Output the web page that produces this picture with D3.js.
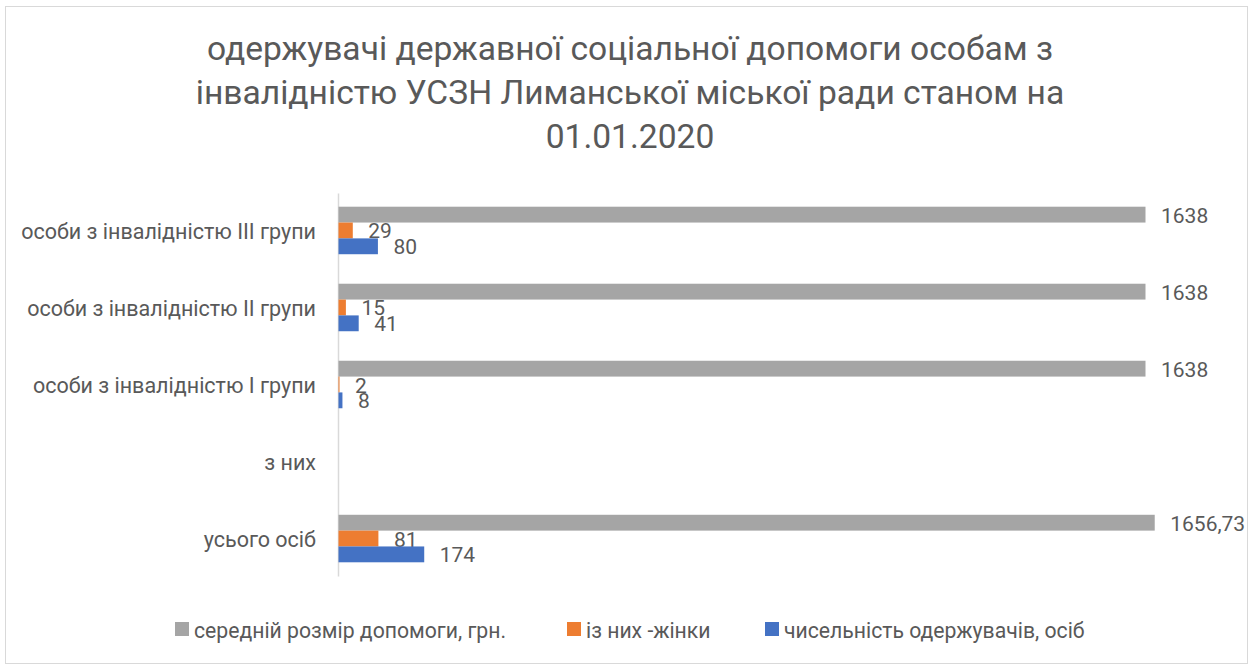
<!DOCTYPE html>
<html>
<head>
<meta charset="utf-8">
<script src="https://cdn.jsdelivr.net/npm/d3@7"></script>
<style>
  html, body { margin: 0; padding: 0; background: #fff; }
  svg { display: block; }
  text { font-family: Roboto, "Noto Sans", sans-serif; fill: #595959; }
</style>
</head>
<body>
<svg id="chart" width="1253" height="669"></svg>
<script>
// Categories, listed bottom to top as they appear on the vertical axis
const categories = [
  "усього осіб",
  "з них",
  "особи з інвалідністю I групи",
  "особи з інвалідністю II групи",
  "особи з інвалідністю III групи"
];

// Series (null = no bar in that row)
const seriesNames = [
  "середній розмір допомоги, грн.",
  "із них -жінки",
  "чисельність одержувачів, осіб"
];
const avgBenefit = [1656.73, null, 1638, 1638, 1638];
const women      = [81, null, 2, 15, 29];
const recipients = [174, null, 8, 41, 80];
const seriesValues = [avgBenefit, women, recipients];
const seriesColors = ["#A5A5A5", "#ED7D31", "#4472C4"];

const titleLines = [
  "одержувачі державної соціальної допомоги особам з",
  "інвалідністю УСЗН Лиманської міської ради станом на",
  "01.01.2020"
];

const fmt = v => Number.isInteger(v) ? String(v) : String(v).replace(".", ",");

const svg = d3.select("#chart");

// chart frame
svg.append("rect")
  .attr("x", 5.5).attr("y", 6.5)
  .attr("width", 1242).attr("height", 657)
  .attr("fill", "#fff").attr("stroke", "#D9D9D9").attr("stroke-width", 1);

// title
const title = svg.append("text")
  .attr("text-anchor", "middle")
  .style("font-size", "33.6px");
titleLines.forEach((line, i) => {
  title.append("tspan").attr("x", 630).attr("y", 60 + i * 44).text(line);
});

const plotLeft = 338, plotTop = 193, plotBottom = 576;

const x = d3.scaleLinear().domain([0, 1638]).range([plotLeft, 1145]);

// top-to-bottom order for the band scale
const y = d3.scaleBand()
  .domain(categories.slice().reverse())
  .range([plotTop, plotBottom])
  .paddingInner(0.383)
  .paddingOuter(0.178);

const ySub = d3.scaleBand()
  .domain(d3.range(seriesNames.length))
  .range([0, y.bandwidth()]);

// category axis
const yAxis = d3.axisLeft(y).tickSize(0).tickPadding(22);
const gAxis = svg.append("g")
  .attr("transform", `translate(${plotLeft},0)`)
  .call(yAxis);
gAxis.select(".domain").attr("stroke", "#D9D9D9").attr("stroke-width", 1.5);
gAxis.selectAll(".tick text")
  .style("font-size", "21.5px")
  .style("fill", "#595959")
  .style("font-family", "Roboto, 'Noto Sans', sans-serif")
  .attr("dy", "0.4em");

// bars and value labels
const rows = categories.map((c, i) => ({ c, i }));
seriesValues.forEach((vals, s) => {
  const g = svg.append("g");
  const data = rows.filter(r => vals[r.i] !== null).map(r => ({ c: r.c, v: vals[r.i] }));
  g.selectAll("rect").data(data).join("rect")
    .attr("x", x(0) + 0.5)
    .attr("y", d => y(d.c) + ySub(s))
    .attr("width", d => x(d.v) - x(0))
    .attr("height", ySub.bandwidth())
    .attr("fill", seriesColors[s]);
  g.selectAll("text").data(data).join("text")
    .attr("x", d => x(d.v) + 16)
    .attr("y", d => y(d.c) + ySub(s) + ySub.bandwidth() / 2 + 1)
    .attr("dominant-baseline", "central")
    .style("font-size", "21px")
    .text(d => fmt(d.v));
});

// legend
const legendItems = [
  { name: seriesNames[0], color: seriesColors[0], x: 175 },
  { name: seriesNames[1], color: seriesColors[1], x: 567 },
  { name: seriesNames[2], color: seriesColors[2], x: 765 }
];
const lg = svg.append("g");
legendItems.forEach(it => {
  lg.append("rect")
    .attr("x", it.x).attr("y", 622)
    .attr("width", 14).attr("height", 14)
    .attr("fill", it.color);
  lg.append("text")
    .attr("x", it.x + 19).attr("y", 630)
    .attr("dominant-baseline", "central")
    .style("font-size", "21.2px")
    .text(it.name);
});
</script>
</body>
</html>
